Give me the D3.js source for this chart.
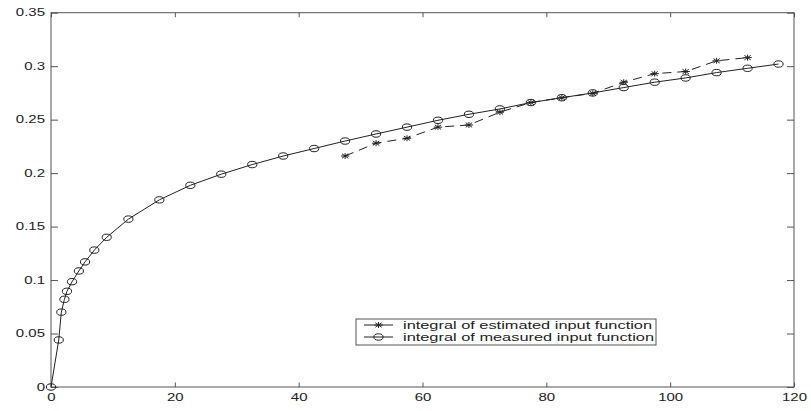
<!DOCTYPE html>
<html><head><meta charset="utf-8">
<script src="https://cdn.jsdelivr.net/npm/d3@7"></script>
<style>
body{margin:0;background:#fff;}
svg{display:block;}
text{font-family:"Liberation Sans",Arial,sans-serif;fill:#222;}
</style></head>
<body>
<svg id="c" width="811" height="411"></svg>
<script>
const measuredX = [0,1.25,1.67,2.17,2.58,3.4,4.5,5.5,7,9,12.5,17.5,22.5,27.5,32.5,37.5,42.5,47.5,52.5,57.5,62.5,67.5,72.5,77.5,82.5,87.5,92.5,97.5,102.5,107.5,112.5,117.5];
const measuredY = [0,0.044,0.070,0.082,0.0895,0.0985,0.1085,0.117,0.128,0.140,0.157,0.175,0.1886,0.199,0.208,0.216,0.223,0.230,0.2366,0.243,0.2494,0.255,0.260,0.266,0.2705,0.275,0.280,0.285,0.289,0.294,0.298,0.302];
const estimatedX = [47.5,52.5,57.5,62.5,67.5,72.5,77.5,82.5,87.5,92.5,97.5,102.5,107.5,112.5];
const estimatedY = [0.216,0.228,0.2326,0.243,0.245,0.257,0.266,0.2705,0.2746,0.285,0.293,0.295,0.305,0.308];
const xTicks = [0,20,40,60,80,100,120];
const yTicks = [0,0.05,0.1,0.15,0.2,0.25,0.3,0.35];
const yTickLabels = ["0","0.05","0.1","0.15","0.2","0.25","0.3","0.35"];
const legendLabels = ["integral of estimated input function","integral of measured input function"];

const svg = d3.select("#c");
const L=51,R=794,T=12.7,B=387;
const x = d3.scaleLinear().domain([0,120]).range([L,R]);
const y = d3.scaleLinear().domain([0,0.35]).range([B,T]);
const axisColor="#555";
const SX=1.5;

// frame
svg.append("rect").attr("x",L).attr("y",T).attr("width",R-L).attr("height",B-T)
  .attr("fill","none").attr("stroke",axisColor).attr("stroke-width",1);

function styleAxis(g){
  g.select(".domain").remove();
  g.selectAll(".tick line").attr("stroke",axisColor);
  g.selectAll("text").attr("font-size",10).attr("fill","#222");
}
const gb = svg.append("g").attr("transform",`translate(0,${B})`)
  .call(d3.axisBottom(x).tickValues(xTicks).tickSizeInner(-4.5).tickSizeOuter(0).tickPadding(7).tickFormat(d3.format("d")));
styleAxis(gb);
gb.selectAll("text").attr("transform",`scale(${SX},1)`);
const gl = svg.append("g").attr("transform",`translate(${L},0)`)
  .call(d3.axisLeft(y).tickValues(yTicks).tickSizeInner(-7).tickSizeOuter(0).tickPadding(4).tickFormat((d,i)=>yTickLabels[i]));
styleAxis(gl);
gl.selectAll("text").attr("transform",`scale(${SX},1)`);
const gt = svg.append("g").attr("transform",`translate(0,${T})`)
  .call(d3.axisTop(x).tickValues(xTicks).tickSizeInner(-4.5).tickSizeOuter(0).tickFormat(""));
styleAxis(gt);
const gr = svg.append("g").attr("transform",`translate(${R},0)`)
  .call(d3.axisRight(y).tickValues(yTicks).tickSizeInner(-7).tickSizeOuter(0).tickFormat(""));
styleAxis(gr);

const lineCol="#222";
const measured = measuredX.map((v,i)=>[v,measuredY[i]]);
const estimated = estimatedX.map((v,i)=>[v,estimatedY[i]]);
const line = d3.line().x(d=>x(d[0])).y(d=>y(d[1]));

svg.append("path").datum(measured).attr("d",line).attr("fill","none").attr("stroke",lineCol).attr("stroke-width",1);
svg.append("path").datum(estimated).attr("d",line).attr("fill","none").attr("stroke",lineCol).attr("stroke-width",1).attr("stroke-dasharray","9,6");

function circleMarker(g,cx,cy){
  g.append("ellipse").attr("cx",cx).attr("cy",cy).attr("rx",4.6).attr("ry",3.2)
   .attr("fill","none").attr("stroke",lineCol).attr("stroke-width",1);
}
function starMarker(g,cx,cy){
  const a=4.2,b=3;
  const p=`M${cx-a},${cy}L${cx+a},${cy}M${cx},${cy-b}L${cx},${cy+b}M${cx-a*0.75},${cy-b*0.75}L${cx+a*0.75},${cy+b*0.75}M${cx-a*0.75},${cy+b*0.75}L${cx+a*0.75},${cy-b*0.75}`;
  g.append("path").attr("d",p).attr("stroke",lineCol).attr("stroke-width",1).attr("fill","none");
}
const gm = svg.append("g");
measured.forEach(d=>circleMarker(gm,x(d[0]),y(d[1])));
const gs = svg.append("g");
estimated.forEach(d=>starMarker(gs,x(d[0]),y(d[1])));

// legend
const lg = svg.append("g");
lg.append("rect").attr("x",356).attr("y",319).attr("width",300).attr("height",26)
  .attr("fill","#fff").attr("stroke",axisColor).attr("stroke-width",1);
const rows=[325,337];
lg.append("line").attr("x1",364).attr("x2",393).attr("y1",rows[0]).attr("y2",rows[0]).attr("stroke",lineCol);
starMarker(lg,378.5,rows[0]);
lg.append("line").attr("x1",364).attr("x2",393).attr("y1",rows[1]).attr("y2",rows[1]).attr("stroke",lineCol);
circleMarker(lg,378.5,rows[1]);
const tl=[249,251];
legendLabels.forEach((t,i)=>{
  lg.append("text").attr("x",403).attr("y",rows[i]+3.6).attr("font-size",10.5)
    .attr("textLength",tl[i]).attr("lengthAdjust","spacingAndGlyphs").text(t);
});
</script>
</body></html>
